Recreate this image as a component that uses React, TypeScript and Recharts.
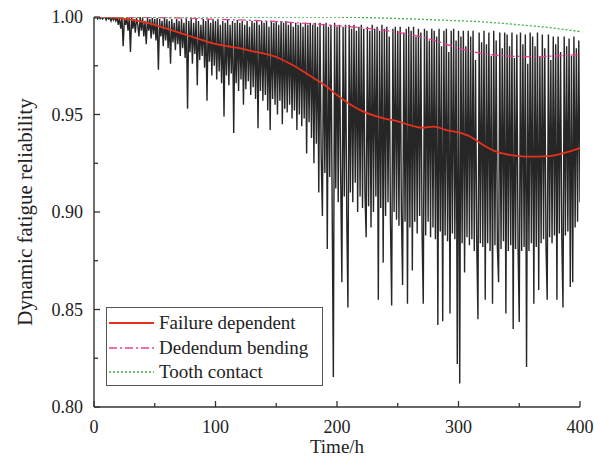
import { Line, LineChart, XAxis, YAxis } from "recharts";

// Dynamic fatigue reliability vs time (h)
const RAW_STEP = 1; // hours between samples of the raw signal

// raw (black) reliability signal, one value per hour from t = 0 to 400
const rawReliability = [
  1.0, 0.9995, 1.0, 0.999, 1.0, 0.9992, 1.0, 0.999, 0.9998, 1.0,
  0.9985, 1.0, 0.999, 0.9995, 0.998, 1.0, 0.9985, 0.9998, 0.998, 1.0,
  0.996, 0.9995, 0.994, 1.0, 0.985, 0.999, 0.996, 1.0, 0.993, 0.9995,
  0.982, 1.0, 0.994, 0.999, 0.992, 0.9995, 0.996, 0.99, 1.0, 0.993,
  0.9995, 0.99, 0.998, 0.986, 0.9995, 0.993, 0.999, 0.989, 0.9995, 0.991,
  0.999, 0.988, 0.9995, 0.973, 0.999, 0.99, 0.998, 0.985, 0.9995, 0.988,
  0.999, 0.984, 0.998, 0.976, 0.999, 0.987, 0.997, 0.983, 0.999, 0.986,
  0.998, 0.98, 0.999, 0.984, 0.997, 0.979, 0.999, 0.953, 0.998, 0.982,
  0.999, 0.976, 0.997, 0.981, 0.999, 0.965, 0.998, 0.978, 0.996, 0.98,
  0.999, 0.974, 0.998, 0.957, 0.999, 0.977, 0.997, 0.97, 0.999, 0.975,
  0.998, 0.968, 0.9985, 0.972, 0.996, 0.966, 0.998, 0.949, 0.997, 0.97,
  0.9985, 0.965, 0.996, 0.971, 0.998, 0.9405, 0.997, 0.966, 0.9985, 0.962,
  0.997, 0.968, 0.998, 0.955, 0.996, 0.963, 0.998, 0.967, 0.995, 0.96,
  0.998, 0.964, 0.997, 0.958, 0.998, 0.943, 0.996, 0.962, 0.998, 0.957,
  0.997, 0.96, 0.998, 0.952, 0.995, 0.942, 0.998, 0.958, 0.997, 0.955,
  0.998, 0.95, 0.996, 0.957, 0.998, 0.945, 0.997, 0.953, 0.998, 0.951,
  0.996, 0.955, 0.997, 0.948, 0.995, 0.952, 0.997, 0.942, 0.996, 0.95,
  0.997, 0.944, 0.995, 0.948, 0.997, 0.93, 0.996, 0.946, 0.997, 0.938,
  0.996, 0.925, 0.997, 0.935, 0.995, 0.91, 0.997, 0.928, 0.898, 0.996,
  0.92, 0.997, 0.881, 0.995, 0.918, 0.996, 0.905, 0.8154, 0.997, 0.912,
  0.995, 0.905, 0.996, 0.92, 0.864, 0.995, 0.908, 0.996, 0.9, 0.851,
  0.996, 0.91, 0.994, 0.905, 0.996, 0.915, 0.993, 0.9, 0.995, 0.908,
  0.996, 0.902, 0.994, 0.91, 0.887, 0.995, 0.903, 0.993, 0.892, 0.996,
  0.9, 0.994, 0.908, 0.995, 0.855, 0.993, 0.902, 0.996, 0.874, 0.994,
  0.898, 0.995, 0.905, 0.99, 0.895, 0.852, 0.994, 0.9, 0.995, 0.896,
  0.993, 0.893, 0.995, 0.9, 0.8626, 0.992, 0.895, 0.994, 0.853, 0.995,
  0.892, 0.993, 0.87, 0.995, 0.895, 0.99, 0.889, 0.994, 0.898, 0.992,
  0.89, 0.853, 0.994, 0.888, 0.993, 0.895, 0.988, 0.887, 0.994, 0.892,
  0.993, 0.886, 0.99, 0.842, 0.994, 0.89, 0.985, 0.844, 0.993, 0.888,
  0.994, 0.885, 0.982, 0.848, 0.993, 0.889, 0.994, 0.886, 0.988, 0.822,
  0.993, 0.812, 0.99, 0.884, 0.993, 0.869, 0.985, 0.887, 0.993, 0.883,
  0.99, 0.886, 0.993, 0.88, 0.978, 0.885, 0.845, 0.992, 0.884, 0.987,
  0.882, 0.993, 0.855, 0.986, 0.884, 0.992, 0.88, 0.98, 0.853, 0.993,
  0.883, 0.988, 0.882, 0.864, 0.992, 0.881, 0.984, 0.885, 0.992, 0.848,
  0.991, 0.88, 0.985, 0.883, 0.992, 0.84, 0.979, 0.881, 0.991, 0.882,
  0.8436, 0.992, 0.88, 0.986, 0.882, 0.991, 0.8205, 0.976, 0.88, 0.992,
  0.884, 0.99, 0.853, 0.985, 0.882, 0.992, 0.86, 0.98, 0.884, 0.991,
  0.886, 0.984, 0.883, 0.855, 0.991, 0.887, 0.978, 0.884, 0.99, 0.888,
  0.986, 0.855, 0.99, 0.889, 0.982, 0.887, 0.851, 0.99, 0.888, 0.985,
  0.89, 0.989, 0.8615, 0.98, 0.864, 0.99, 0.892, 0.984, 0.895, 0.988,
  0.905,
];

const failureTimes = [
  0, 10, 20, 30, 40, 50, 60, 70, 80, 90, 100, 110, 120, 130, 140, 150, 160,
  170, 180, 190, 200, 210, 220, 230, 240, 250, 260, 270, 280, 290, 300, 310,
  320, 330, 340, 350, 360, 370, 380, 390, 400,
];
const failureDependent = [
  1.0, 1.0, 0.9995, 0.9986, 0.9975, 0.996, 0.994, 0.992, 0.99, 0.988, 0.9862,
  0.985, 0.984, 0.9825, 0.9812, 0.9795, 0.9765, 0.973, 0.969, 0.965, 0.96,
  0.9555, 0.952, 0.9495, 0.9478, 0.9465, 0.9445, 0.9432, 0.9438, 0.942,
  0.9408, 0.9386, 0.9345, 0.9312, 0.9295, 0.9287, 0.9284, 0.9285, 0.9292,
  0.9308, 0.9328,
];

const bendingTimes = [
  0, 40, 80, 100, 120, 140, 160, 180, 200, 220, 240, 260, 280, 300, 320, 340,
  360, 380, 400,
];
const dedendumBending = [
  1.0, 0.9998, 0.9993, 0.9988, 0.9985, 0.998, 0.9973, 0.9965, 0.9955, 0.9945,
  0.993, 0.991, 0.988, 0.984, 0.9812, 0.98, 0.9797, 0.98, 0.9808,
];

const contactTimes = [0, 100, 200, 230, 260, 290, 320, 350, 380, 400];
const toothContact = [
  1.0, 1.0, 0.9999, 0.9996, 0.999, 0.9983, 0.9975, 0.996, 0.9942, 0.9925,
];

const xTicks = [0, 50, 100, 150, 200, 250, 300, 350, 400];
const yTicks = [0.8, 0.825, 0.85, 0.875, 0.9, 0.925, 0.95, 0.975, 1.0];

const rawData = rawReliability.map((r, i) => ({ t: i * RAW_STEP, r }));
const failureData = failureTimes.map((t, i) => ({ t, r: failureDependent[i] }));
const bendingData = bendingTimes.map((t, i) => ({ t, r: dedendumBending[i] }));
const contactData = contactTimes.map((t, i) => ({ t, r: toothContact[i] }));

const FONT = "'Liberation Serif', 'Times New Roman', serif";
const AXIS = "#333";

function XTick(props: any) {
  const { x, y, payload } = props;
  const major = payload.value % 100 === 0;
  return (
    <g>
      <line x1={x} x2={x} y1={y} y2={y - (major ? 6 : 4)} stroke={AXIS} strokeWidth={1.3} />
      {major && (
        <text x={x} y={y + 26} textAnchor="middle" fontFamily={FONT} fontSize={18} fill="#222">
          {payload.value}
        </text>
      )}
    </g>
  );
}

function YTick(props: any) {
  const { x, y, payload } = props;
  const v = Math.round(payload.value * 1000);
  const major = v % 50 === 0;
  return (
    <g>
      <line x1={x} x2={x + (major ? 6 : 4)} y1={y} y2={y} stroke={AXIS} strokeWidth={1.3} />
      {major && (
        <text x={x - 11} y={y + 6} textAnchor="end" fontFamily={FONT} fontSize={18} fill="#222">
          {payload.value.toFixed(2)}
        </text>
      )}
    </g>
  );
}

const legendItems = [
  { name: "Failure dependent", color: "#e8301c", dash: undefined, width: 1.8 },
  { name: "Dedendum bending", color: "#ee3a96", dash: "8 3 2 3", width: 1.3 },
  { name: "Tooth contact", color: "#3db43d", dash: "2 2", width: 1.3 },
];

export default function App() {
  return (
    <div style={{ position: "absolute", left: 0, top: 0, width: 594, height: 466, background: "#fff" }}>
      <LineChart width={594} height={466} margin={{ top: 17, right: 14, bottom: 0, left: 0 }}>
        <XAxis
          dataKey="t"
          type="number"
          domain={[0, 400]}
          ticks={xTicks}
          interval={0}
          height={59}
          tickSize={0}
          tickMargin={0}
          tick={<XTick />}
          tickLine={false}
          axisLine={{ stroke: AXIS, strokeWidth: 1.4 }}
          allowDataOverflow
        />
        <XAxis
          xAxisId="top"
          orientation="top"
          type="number"
          domain={[0, 400]}
          height={0}
          tick={false}
          tickLine={false}
          axisLine={{ stroke: AXIS, strokeWidth: 1.4 }}
        />
        <YAxis
          type="number"
          domain={[0.8, 1.0]}
          ticks={yTicks}
          interval={0}
          width={94}
          tickSize={0}
          tickMargin={0}
          tick={<YTick />}
          tickLine={false}
          axisLine={{ stroke: AXIS, strokeWidth: 1.4 }}
          allowDataOverflow
        />
        <YAxis
          yAxisId="right"
          orientation="right"
          type="number"
          domain={[0.8, 1.0]}
          width={0}
          tick={false}
          tickLine={false}
          axisLine={{ stroke: AXIS, strokeWidth: 1.4 }}
        />
        <Line
          data={rawData}
          dataKey="r"
          type="linear"
          stroke="#000"
          strokeWidth={1.4}
          strokeOpacity={0.85}
          dot={false}
          isAnimationActive={false}
        />
        <Line
          data={failureData}
          dataKey="r"
          type="monotone"
          stroke="#e8301c"
          strokeWidth={1.8}
          dot={false}
          isAnimationActive={false}
        />
        <Line
          data={bendingData}
          dataKey="r"
          type="monotone"
          stroke="#ee3a96"
          strokeWidth={1.3}
          strokeDasharray="8 3 2 3"
          dot={false}
          isAnimationActive={false}
        />
        <Line
          data={contactData}
          dataKey="r"
          type="monotone"
          stroke="#3db43d"
          strokeWidth={1.3}
          strokeDasharray="2 2"
          dot={false}
          isAnimationActive={false}
        />
      </LineChart>

      {/* axis titles */}
      <div
        style={{
          position: "absolute",
          left: 237,
          width: 200,
          top: 436,
          textAlign: "center",
          fontFamily: FONT,
          fontSize: 19,
          color: "#222",
          lineHeight: "22px",
        }}
      >
        Time/h
      </div>
      <div
        style={{
          position: "absolute",
          left: 25 - 150,
          top: 212 - 12,
          width: 300,
          textAlign: "center",
          fontFamily: FONT,
          fontSize: 21,
          color: "#222",
          lineHeight: "24px",
          transform: "rotate(-90deg)",
        }}
      >
        Dynamic fatigue reliability
      </div>

      {/* legend */}
      <div
        style={{
          position: "absolute",
          left: 106,
          top: 307,
          width: 215,
          height: 77,
          border: "1px solid #555",
          background: "#fff",
          fontFamily: FONT,
          fontSize: 19,
          color: "#222",
        }}
      >
        {legendItems.map((item, i) => (
          <div
            key={item.name}
            style={{ position: "absolute", left: 0, top: 3 + i * 24.5, height: 24, display: "flex", alignItems: "center" }}
          >
            <svg width={52} height={24} style={{ display: "block" }}>
              <line
                x1={2}
                x2={47}
                y1={12}
                y2={12}
                stroke={item.color}
                strokeWidth={item.width}
                strokeDasharray={item.dash}
              />
            </svg>
            <span style={{ whiteSpace: "nowrap", lineHeight: "24px" }}>{item.name}</span>
          </div>
        ))}
      </div>
    </div>
  );
}
